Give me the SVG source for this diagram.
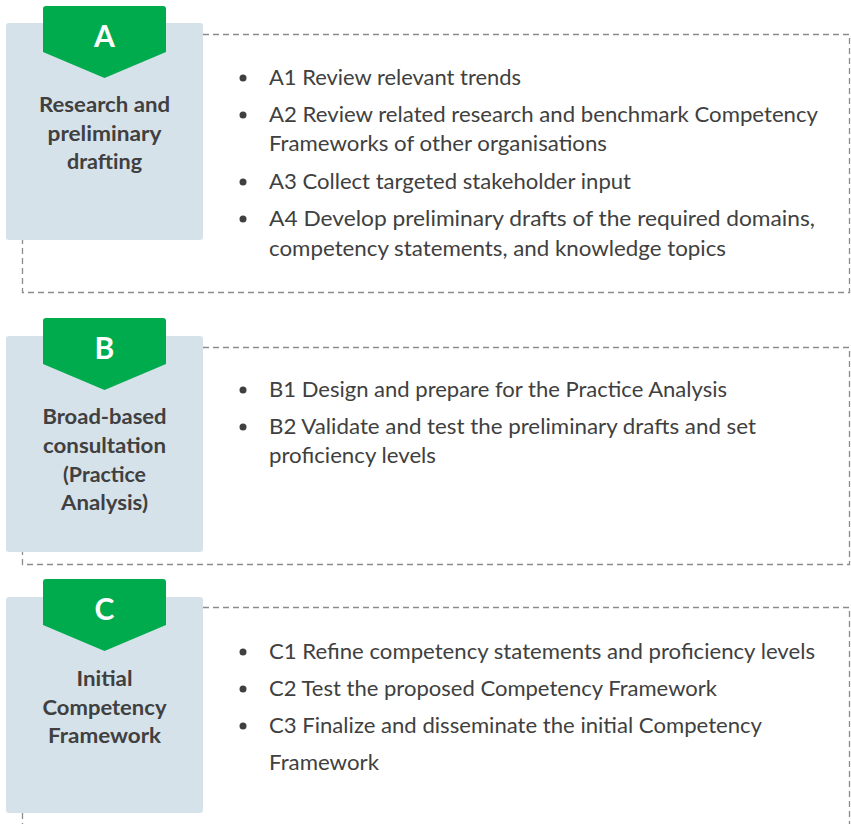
<svg xmlns="http://www.w3.org/2000/svg" width="851" height="824" viewBox="0 0 851 824">
<style>
.dash{fill:none;stroke:#8c8c8c;stroke-width:1.3;stroke-dasharray:6 4}
.panel{fill:#d6e2ea}
.tab{fill:#00ab4e}
.letter{font-family:Lato,"Open Sans",sans-serif;font-weight:bold;font-size:30px;fill:#fff;text-anchor:middle}
.label{font-family:Lato,"Open Sans",sans-serif;font-weight:bold;font-size:21px;fill:#404040;text-anchor:middle}
.item{font-family:Lato,"Open Sans",sans-serif;font-size:21px;fill:#404040}
.bullet{fill:#404040}
</style>
<rect width="851" height="824" fill="#fff"/>
<g id="connectors">
<path class="dash" d="M203,34.5 H849.5 V292.5 H22.5 V240"/>
<path class="dash" d="M203,347.5 H849.5 V564.5 H22.5 V552"/>
<path class="dash" d="M203,607.5 H849.5 V824"/>
<path class="dash" d="M22.5,813 V824"/>
</g>
<g id="nodeA">
<rect class="panel" x="6" y="23" width="197" height="217" rx="3"/>
<path class="tab" d="M43,9 Q43,6 46,6 H163 Q166,6 166,9 V52 L104.5,78 L43,52 Z"/>
<text class="letter" x="104.5" y="47">A</text>
<text class="label" x="104.5" y="112" textLength="131" lengthAdjust="spacingAndGlyphs">Research and</text>
<text class="label" x="104.5" y="141" textLength="114" lengthAdjust="spacingAndGlyphs">preliminary</text>
<text class="label" x="104.5" y="169" textLength="75" lengthAdjust="spacingAndGlyphs">drafting</text>
</g>
<g id="itemsA">
<circle class="bullet" cx="243" cy="78" r="3.5"/>
<text class="item" x="269" y="85" textLength="252" lengthAdjust="spacingAndGlyphs">A1 Review relevant trends</text>
<circle class="bullet" cx="243" cy="115" r="3.5"/>
<text class="item" x="269" y="122" textLength="549" lengthAdjust="spacingAndGlyphs">A2 Review related research and benchmark Competency</text>
<text class="item" x="269" y="151" textLength="338" lengthAdjust="spacingAndGlyphs">Frameworks of other organisations</text>
<circle class="bullet" cx="243" cy="182" r="3.5"/>
<text class="item" x="269" y="189" textLength="362" lengthAdjust="spacingAndGlyphs">A3 Collect targeted stakeholder input</text>
<circle class="bullet" cx="243" cy="219" r="3.5"/>
<text class="item" x="269" y="226" textLength="546" lengthAdjust="spacingAndGlyphs">A4 Develop preliminary drafts of the required domains,</text>
<text class="item" x="269" y="256" textLength="457" lengthAdjust="spacingAndGlyphs">competency statements, and knowledge topics</text>
</g>
<g id="nodeB">
<rect class="panel" x="6" y="336" width="197" height="216" rx="3"/>
<path class="tab" d="M43,321 Q43,318 46,318 H163 Q166,318 166,321 V364 L104.5,390 L43,364 Z"/>
<text class="letter" x="104.5" y="359">B</text>
<text class="label" x="104.5" y="424" textLength="124" lengthAdjust="spacingAndGlyphs">Broad-based</text>
<text class="label" x="104.5" y="453" textLength="123" lengthAdjust="spacingAndGlyphs">consultation</text>
<text class="label" x="104.5" y="482" textLength="83" lengthAdjust="spacingAndGlyphs">(Practice</text>
<text class="label" x="104.5" y="510" textLength="87" lengthAdjust="spacingAndGlyphs">Analysis)</text>
</g>
<g id="itemsB">
<circle class="bullet" cx="243" cy="390" r="3.5"/>
<text class="item" x="269" y="397" textLength="458" lengthAdjust="spacingAndGlyphs">B1 Design and prepare for the Practice Analysis</text>
<circle class="bullet" cx="243" cy="427" r="3.5"/>
<text class="item" x="269" y="434" textLength="487" lengthAdjust="spacingAndGlyphs">B2 Validate and test the preliminary drafts and set</text>
<text class="item" x="269" y="463" textLength="167" lengthAdjust="spacingAndGlyphs">proficiency levels</text>
</g>
<g id="nodeC">
<rect class="panel" x="6" y="597" width="197" height="216" rx="3"/>
<path class="tab" d="M43,582 Q43,579 46,579 H163 Q166,579 166,582 V625 L104.5,651 L43,625 Z"/>
<text class="letter" x="104.5" y="620">C</text>
<text class="label" x="104.5" y="686" textLength="56" lengthAdjust="spacingAndGlyphs">Initial</text>
<text class="label" x="104.5" y="715" textLength="124" lengthAdjust="spacingAndGlyphs">Competency</text>
<text class="label" x="104.5" y="743" textLength="113" lengthAdjust="spacingAndGlyphs">Framework</text>
</g>
<g id="itemsC">
<circle class="bullet" cx="243" cy="652" r="3.5"/>
<text class="item" x="269" y="659" textLength="546" lengthAdjust="spacingAndGlyphs">C1 Refine competency statements and proficiency levels</text>
<circle class="bullet" cx="243" cy="689" r="3.5"/>
<text class="item" x="269" y="696" textLength="448" lengthAdjust="spacingAndGlyphs">C2 Test the proposed Competency Framework</text>
<circle class="bullet" cx="243" cy="726" r="3.5"/>
<text class="item" x="269" y="733" textLength="493" lengthAdjust="spacingAndGlyphs">C3 Finalize and disseminate the initial Competency</text>
<text class="item" x="269" y="770" textLength="110" lengthAdjust="spacingAndGlyphs">Framework</text>
</g>
</svg>
